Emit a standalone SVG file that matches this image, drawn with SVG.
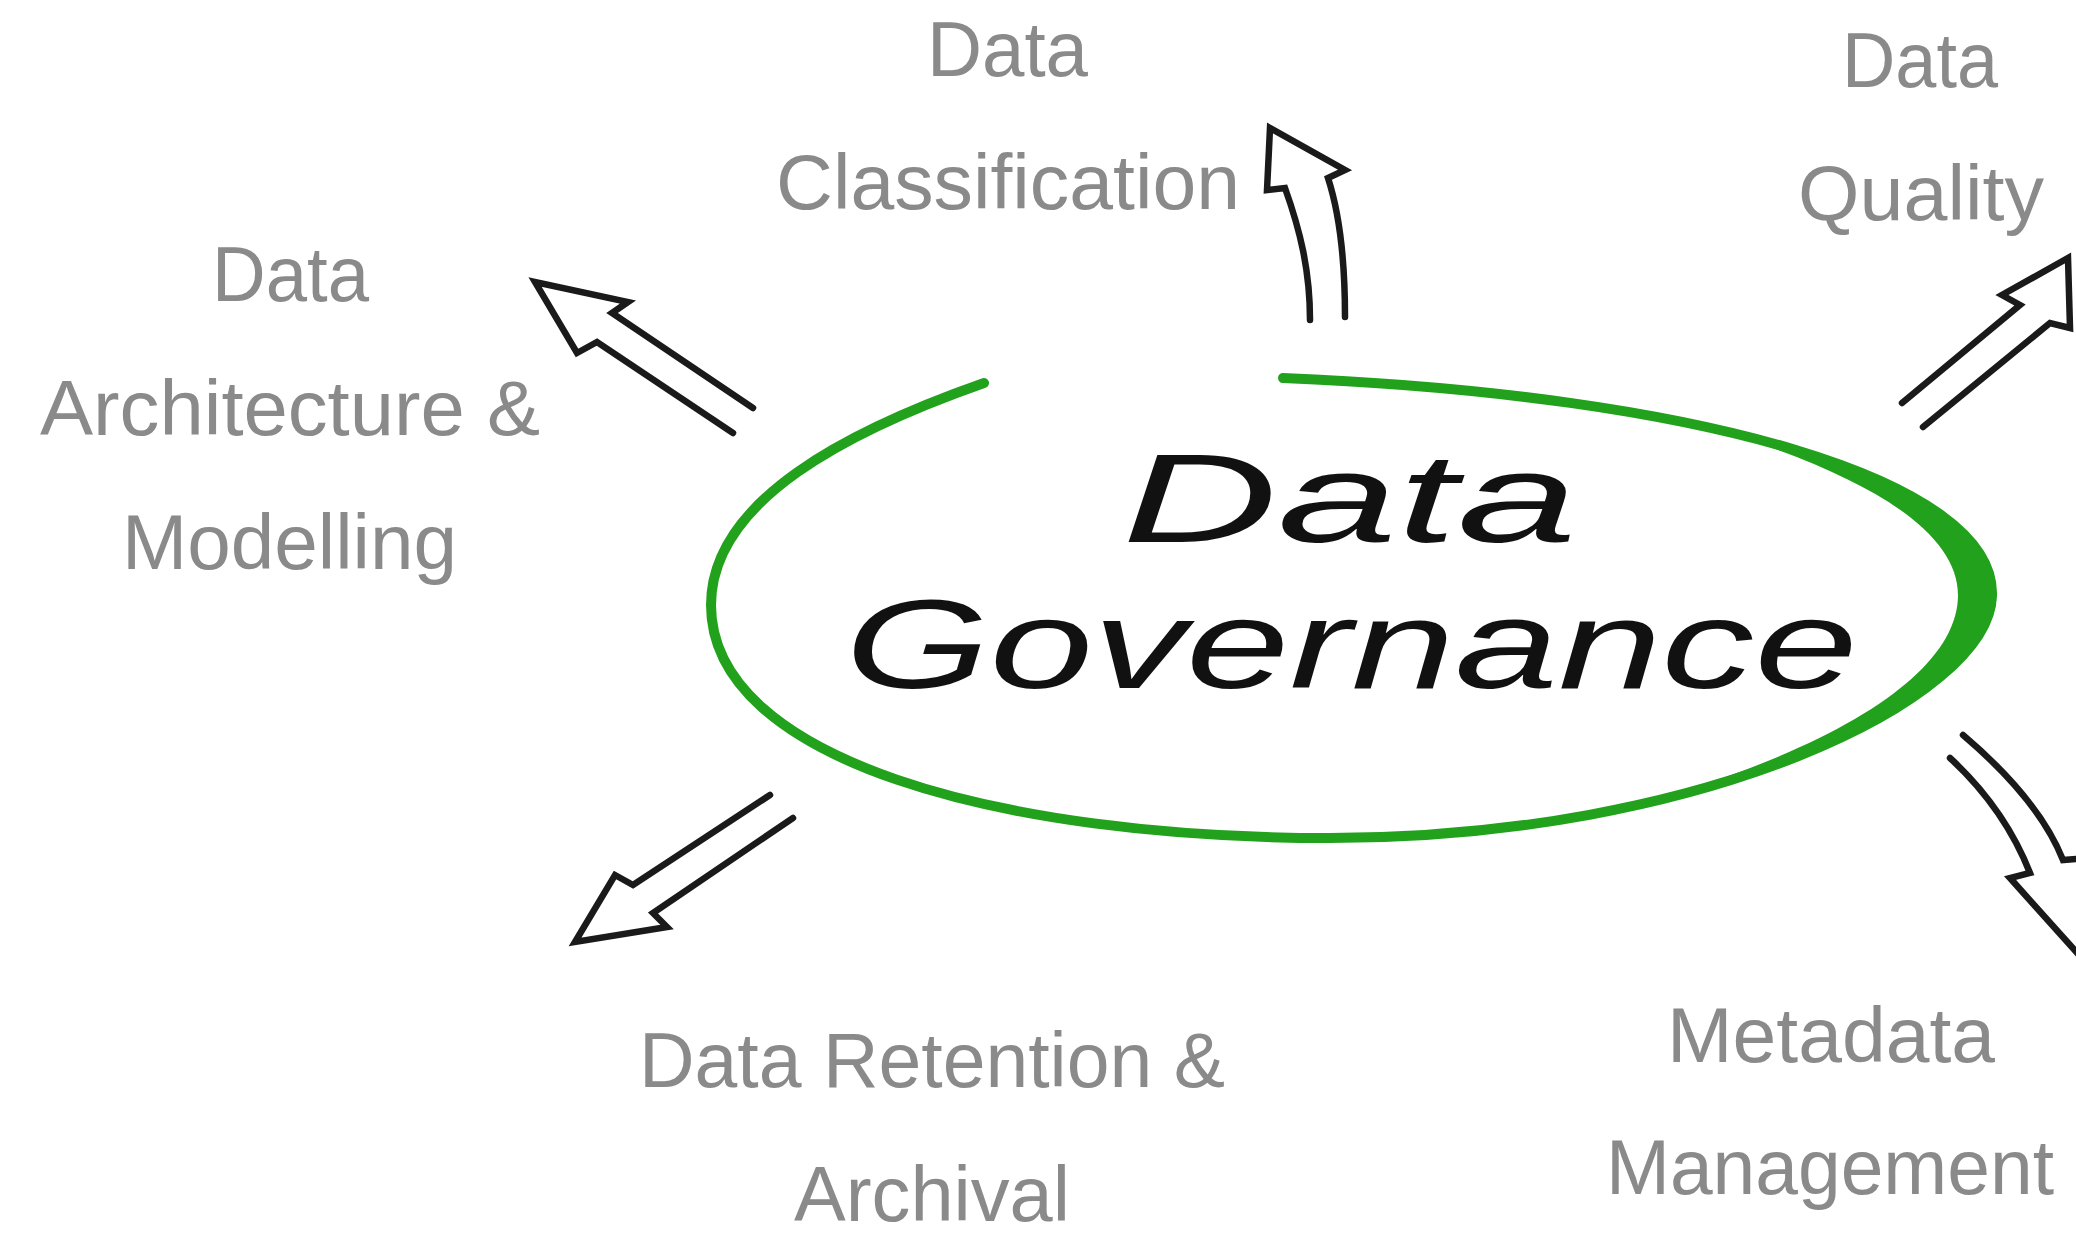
<svg xmlns="http://www.w3.org/2000/svg" width="2076" height="1234" viewBox="0 0 2076 1234">
<style>
.lbl{font-family:"Liberation Sans","Arial",sans-serif;font-size:77px;fill:#8a8a8a}
.title{font-family:"Liberation Sans","Arial",sans-serif;font-style:italic;font-size:126px;fill:#111}
.arr{fill:none;stroke:#1a1a1a;stroke-width:6.5;stroke-linejoin:miter;stroke-linecap:round}
.ring{fill:none;stroke:#22a11c;stroke-width:10;stroke-linecap:round}
.ringfill{fill:#22a11c}
</style>
<rect width="2076" height="1234" fill="#ffffff"/>
<g id="center">
  <path class="ring" d="M1283,378 C1700,395 1995,480 1992,595 C1990,700 1700,838 1330,838 C1000,838 711,760 711,605 C711,500 850,430 984,383"/>
  <path class="ringfill" d="M1713.6,428.6 C1888.3,467.8 1996,526 1996.5,595 C1996,670 1848.1,759 1635.8,805.5 C1840,748 1958,672 1958,595 C1958,532 1870,476 1713.6,428.6 Z"/>
  <text class="title" x="1122" y="542" textLength="455" lengthAdjust="spacingAndGlyphs">Data</text>
  <text class="title" x="845" y="688" textLength="1013" lengthAdjust="spacingAndGlyphs">Governance</text>
</g>
<g id="connectors">
  <path class="arr" d="M753,408 L612,313 L628,302 L535,282 L577,353 L597,342 L733,433"/>
  <path class="arr" d="M1345,317 C1345,260 1340,215 1328,178 L1345,170 L1270,128 L1267,190 L1285,188 C1300,230 1310,270 1310,320"/>
  <path class="arr" d="M1923,427 L2050,323 L2070,328 L2068,258 L2002,295 L2020,305 L1902,403"/>
  <path class="arr" d="M770,795 L633,885 L615,875 L575,942 L667,927 L653,913 L793,818"/>
  <path class="arr" d="M1963,735 C2010,775 2045,815 2063,860 L2090,858 L2088,965 L2010,878 L2030,873 C2015,835 1990,795 1950,758"/>
</g>
<g id="node-classification">
  <text class="lbl" x="927" y="76" textLength="161" lengthAdjust="spacingAndGlyphs">Data</text>
  <text class="lbl" x="776" y="209" textLength="464" lengthAdjust="spacingAndGlyphs">Classification</text>
</g>
<g id="node-quality">
  <text class="lbl" x="1842" y="87" textLength="156" lengthAdjust="spacingAndGlyphs">Data</text>
  <text class="lbl" x="1798" y="220" textLength="246" lengthAdjust="spacingAndGlyphs">Quality</text>
</g>
<g id="node-architecture">
  <text class="lbl" x="212" y="301" textLength="157" lengthAdjust="spacingAndGlyphs">Data</text>
  <text class="lbl" x="40" y="435" textLength="500" lengthAdjust="spacingAndGlyphs">Architecture &amp;</text>
  <text class="lbl" x="122" y="569" textLength="335" lengthAdjust="spacingAndGlyphs">Modelling</text>
</g>
<g id="node-retention">
  <text class="lbl" x="639" y="1087" textLength="586" lengthAdjust="spacingAndGlyphs">Data Retention &amp;</text>
  <text class="lbl" x="794" y="1221" textLength="276" lengthAdjust="spacingAndGlyphs">Archival</text>
</g>
<g id="node-metadata">
  <text class="lbl" x="1667" y="1062" textLength="328" lengthAdjust="spacingAndGlyphs">Metadata</text>
  <text class="lbl" x="1606" y="1194" textLength="448" lengthAdjust="spacingAndGlyphs">Management</text>
</g>
</svg>
